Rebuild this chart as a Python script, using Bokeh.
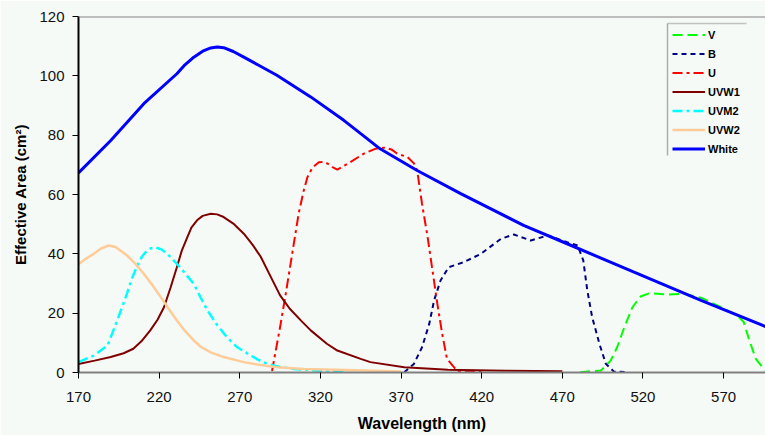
from bokeh.plotting import figure
from bokeh.models import Range1d, FixedTicker, Span, BoxAnnotation
from bokeh.embed import file_html
from bokeh.resources import INLINE

# ---- data ----
x_ticks = [170, 220, 270, 320, 370, 420, 470, 520, 570]
y_ticks = [0, 20, 40, 60, 80, 100, 120]

v_wl = [481, 494, 500, 504, 508.5, 513.5, 518.5, 524, 535, 545.5, 556, 568.5, 578.5, 582.5, 586, 590, 595, 596]
v_area = [0.1, 0.7, 4.0, 8.5, 15.3, 22.0, 25.6, 26.7, 26.3, 26.5, 25.2, 22.0, 19.2, 17.0, 10.8, 4.6, 1.2, 0.8]

b_wl = [372, 378, 383, 387.5, 390.5, 394.5, 399.5, 409, 419.5, 432, 440, 450.5, 461, 473, 479.5, 483, 485.5, 488.5, 493, 497, 502, 510]
b_area = [0.1, 2.9, 8.5, 16.4, 24.3, 31.0, 35.5, 37.2, 40.0, 45.1, 46.5, 44.5, 46.2, 43.9, 42.8, 37.8, 27.7, 18.7, 9.7, 2.9, 0.3, 0.1]

u_wl = [290, 295, 298.5, 302.5, 306.5, 309.5, 312, 315, 319, 322, 324.5, 327.5, 330.5, 334, 338.5, 347, 354, 359.5, 364, 367.5, 374, 378, 380, 383, 386.5, 389.5, 392.5, 395.5, 398.5, 405, 420]
u_area = [0.5, 15.3, 26.5, 40.0, 53.5, 61.0, 65.9, 69.0, 70.9, 71.0, 70.4, 69.2, 68.4, 69.5, 70.9, 73.8, 75.4, 75.8, 75.2, 73.8, 72.6, 70.5, 68.1, 56.9, 45.6, 34.4, 23.2, 13.1, 4.6, 0.4, 0.2]

uvw1_wl = [170, 180, 190, 198, 204, 209, 214.5, 219, 223, 227, 231, 234, 237.5, 240, 243.5, 247, 252, 256, 260, 266, 272.5, 278, 283, 289, 295, 301, 308, 314, 324, 330.5, 345, 351, 372, 399, 435, 470]
uvw1_area = [2.9, 4.0, 5.2, 6.5, 8.0, 10.5, 14.2, 17.8, 22.0, 28.5, 35.5, 41.0, 45.6, 48.8, 51.3, 52.8, 53.5, 53.3, 52.4, 50.2, 46.8, 43.0, 39.0, 32.5, 26.0, 21.5, 17.5, 14.2, 9.7, 7.4, 4.6, 3.5, 1.8, 0.9, 0.6, 0.4]

uvm2_wl = [170, 179.5, 188, 194, 200, 203, 206.5, 209.5, 212.5, 215, 218, 221.5, 225, 229, 233, 237, 241.5, 246, 250, 256, 262, 268, 275, 281, 287, 295, 303.5, 320, 335]
uvm2_area = [3.5, 5.7, 9.1, 17.5, 26.5, 31.5, 36.1, 39.2, 41.1, 41.9, 42.1, 41.5, 40.0, 37.8, 35.5, 32.8, 29.9, 25.0, 20.9, 16.0, 11.9, 8.7, 6.3, 4.4, 2.9, 1.9, 1.2, 0.6, 0.3]

uvw2_wl = [170, 175, 179.5, 184, 188.8, 193, 200, 205, 210.5, 216, 221, 226, 231, 236, 241.5, 246, 252, 260, 272.5, 283, 293, 310, 330, 370]
uvw2_area = [36.5, 38.5, 40.0, 41.8, 42.8, 42.3, 39.5, 36.8, 33.3, 29.3, 25.4, 21.4, 17.5, 14.0, 10.8, 8.6, 6.8, 5.2, 3.5, 2.5, 1.8, 1.2, 0.9, 0.3]

white_wl = [170, 190, 210.5, 231, 236, 241.5, 247, 252, 256, 260, 266, 272.5, 282, 293, 314, 334.5, 345, 357, 380, 407, 446, 473, 514.5, 556, 596]
white_area = [67.3, 78.2, 90.6, 100.7, 103.7, 106.3, 108.3, 109.4, 109.7, 109.5, 108.2, 106.3, 103.5, 100.2, 92.9, 85.0, 80.5, 75.4, 68.1, 60.3, 49.6, 43.4, 33.8, 24.3, 15.5]

X_MIN, X_MAX = 170, 596
Y_MIN, Y_MAX = 0, 120

BG = "#F5FAF6"
FONT = "Liberation Sans"

p = figure(width=765, height=435, x_range=Range1d(X_MIN, X_MAX), y_range=Range1d(Y_MIN, Y_MAX),
           output_backend="svg", toolbar_location=None,
           min_border_left=78, min_border_right=0, min_border_top=16, min_border_bottom=63)
p.background_fill_color = BG
p.border_fill_color = BG
p.outline_line_color = None
p.xgrid.visible = False
p.ygrid.visible = False

p.line(v_wl, v_area, line_color="#00FF00", line_width=2, line_dash="10 5", legend_label="V")
p.line(b_wl, b_area, line_color="#000080", line_width=2, line_dash="5 4", legend_label="B")
p.line(u_wl, u_area, line_color="#FF0000", line_width=2, line_dash="10 4 3 4", legend_label="U")
p.line(uvw1_wl, uvw1_area, line_color="#800000", line_width=2, legend_label="UVW1")
p.line(uvm2_wl, uvm2_area, line_color="#00FFFF", line_width=2.5, line_dash="10 4 3 4", legend_label="UVM2")
p.line(uvw2_wl, uvw2_area, line_color="#FFCC99", line_width=2.5, legend_label="UVW2")
p.line(white_wl, white_area, line_color="#0000FF", line_width=3, legend_label="White")

# axes
p.xaxis.ticker = FixedTicker(ticks=x_ticks)
p.yaxis.ticker = FixedTicker(ticks=y_ticks)
for ax in (p.xaxis[0], p.yaxis[0]):
    ax.major_label_text_font = FONT
    ax.major_label_text_font_size = "15px"
    ax.major_label_text_color = "#111111"
    ax.axis_label_text_font = FONT
    ax.axis_label_text_font_style = "bold"
    ax.axis_label_text_color = "#000000"
    ax.major_tick_in = 0
    ax.major_tick_out = 6
    ax.major_tick_line_color = "#000000"
    ax.minor_tick_line_color = None

p.xaxis.axis_label = "Wavelength (nm)"
p.xaxis.axis_label_text_font_size = "16px"
p.xaxis.axis_line_color = "#808080"
p.xaxis.axis_line_width = 2
p.xaxis.major_label_standoff = 13
p.xaxis.axis_label_standoff = 10

p.yaxis.axis_label = "Effective Area (cm²)"
p.yaxis.axis_label_text_font_size = "15px"
p.yaxis.axis_line_color = "#000000"
p.yaxis.axis_line_width = 2
p.yaxis.major_label_standoff = 8
p.yaxis.axis_label_standoff = 7

# top frame line
p.add_layout(Span(location=Y_MAX, dimension="width", line_color="#808080", line_width=2))

# legend
lg = p.legend[0]
lg.location = (589, 212)
lg.border_line_alpha = 0
lg.background_fill_alpha = 0
lg.padding = 5
lg.margin = 0
lg.spacing = 6
lg.glyph_height = 13
lg.glyph_width = 33
lg.label_height = 13
lg.label_standoff = 3
lg.label_text_font = FONT
lg.label_text_font_size = "11px"
lg.label_text_font_style = "bold"
lg.label_text_color = "#000000"

# legend frame (left and top edges only, as in the reference)
fw = 765 - 78
fh = 372 - 16
def px_x(px):
    return X_MIN + (px - 78) * (X_MAX - X_MIN) / fw
def px_y(py):
    return Y_MIN + (372 - py) * (Y_MAX - Y_MIN) / fh
p.add_layout(BoxAnnotation(left=px_x(667), right=px_x(667), top=px_y(23), bottom=px_y(155),
                           fill_alpha=0, line_color="#000000", line_width=1.5))
p.add_layout(BoxAnnotation(left=px_x(667), right=px_x(746), top=px_y(23), bottom=px_y(23),
                           fill_alpha=0, line_color="#444444", line_width=1.5))

open("out.html", "w").write(file_html(p, INLINE))
